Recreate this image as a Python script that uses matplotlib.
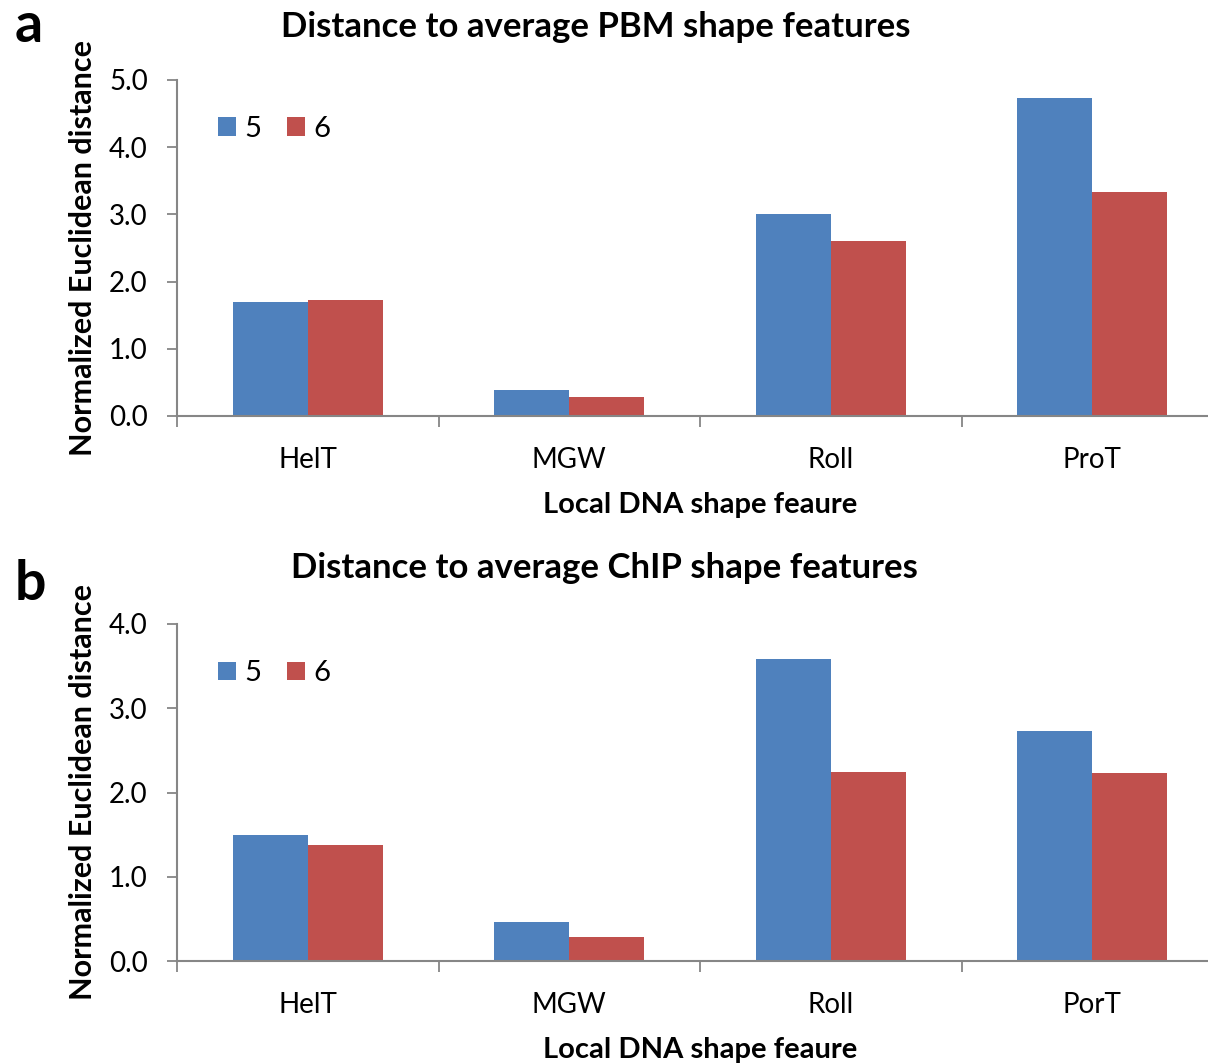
import matplotlib
matplotlib.use("Agg")
import matplotlib.pyplot as plt
import numpy as np

plt.rcParams['font.family'] = ['Lato', 'DejaVu Sans']

categories_a = ['HelT', 'MGW', 'Roll', 'ProT']
categories_b = ['HelT', 'MGW', 'Roll', 'PorT']
pbm_5 = [1.69, 0.38, 3.01, 4.73]
pbm_6 = [1.73, 0.29, 2.60, 3.34]
chip_5 = [1.50, 0.46, 3.58, 2.73]
chip_6 = [1.38, 0.29, 2.24, 2.23]
series_names = ['5', '6']

blue = '#4F81BD'
red = '#C0504D'
axis_gray = '#868686'

W, H = 1208, 1064
fig = plt.figure(figsize=(W / 100, H / 100), dpi=100)


def draw_panel(rect, cats, v5, v6, ymax, title, letter, letter_y, title_x, title_y):
    ax = fig.add_axes(rect)
    x = np.arange(len(cats)) + 0.5
    w = 0.287
    ax.bar(x - w / 2, v5, w, color=blue, label=series_names[0])
    ax.bar(x + w / 2, v6, w, color=red, label=series_names[1])
    ax.set_xlim(0, len(cats))
    ax.set_ylim(0, ymax)
    ticks = np.arange(0, ymax + 0.01, 1.0)
    ax.set_yticks(ticks)
    ax.set_yticklabels(['%.1f' % t for t in ticks], fontsize=20)
    ax.set_xticks(np.arange(len(cats) + 1))
    ax.set_xticklabels([])
    ax.set_xticks(x, minor=True)
    ax.set_xticklabels(cats, minor=True, fontsize=20)
    ax.tick_params(axis='x', which='minor', length=0, pad=22)
    ax.tick_params(axis='x', which='major', length=8, color=axis_gray, width=1.3)
    ax.tick_params(axis='y', length=7, color=axis_gray, width=1.3, pad=14)
    for s in ['top', 'right']:
        ax.spines[s].set_visible(False)
    for s in ['left', 'bottom']:
        ax.spines[s].set_color(axis_gray)
        ax.spines[s].set_linewidth(1.5)
    ax.set_xlabel('Local DNA shape feaure', fontsize=21, fontweight='bold', labelpad=14)
    ax.set_ylabel('Normalized Euclidean distance', fontsize=22, fontweight='bold', labelpad=9)
    ax.legend(loc='upper left', bbox_to_anchor=(0.028, 0.927), ncol=2, frameon=False,
              fontsize=21, handlelength=0.62, handleheight=0.62, handletextpad=0.3,
              columnspacing=0.85, borderaxespad=0)
    fig.text(title_x / W, 1 - title_y / H, title, fontsize=25, fontweight='bold',
             ha='center', va='center')
    fig.text(15 / W, 1 - letter_y / H, letter, fontsize=40, fontweight='bold',
             ha='left', va='baseline')
    return ax


draw_panel([177 / W, 648 / H, 1046 / W, 336 / H], categories_a, pbm_5, pbm_6, 5.0,
           'Distance to average PBM shape features', 'a', 42, 596, 27)
draw_panel([177 / W, 103 / H, 1046 / W, 337 / H], categories_b, chip_5, chip_6, 4.0,
           'Distance to average ChIP shape features', 'b', 600, 604, 568)

fig.savefig('out.png', dpi=100)
